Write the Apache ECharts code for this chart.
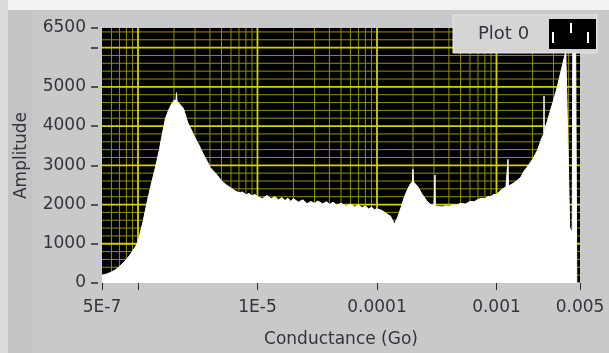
<!DOCTYPE html>
<html><head><meta charset="utf-8">
<script src="https://cdn.jsdelivr.net/npm/echarts@6/dist/echarts.min.js"></script>
<style>html,body{margin:0;padding:0;background:#c9c9c9}#c{width:609px;height:353px}</style>
</head><body><div id="c"></div>
<script>
// ---- data ----
const conductance = [
  5e-7, 5.5e-7, 6e-7, 6.5e-7, 7e-7, 7.5e-7, 8e-7, 8.5e-7, 9e-7, 9.5e-7,
  1e-6, 1.1e-6, 1.2e-6, 1.3e-6, 1.4e-6, 1.5e-6, 1.6e-6, 1.7e-6, 1.8e-6, 1.9e-6, 2e-6, 2.08e-6, 2.1e-6, 2.12e-6, 2.2e-6, 2.4e-6, 2.6e-6, 2.8e-6, 3e-6, 3.2e-6, 3.5e-6, 3.8e-6, 4e-6, 4.3e-6, 4.6e-6, 5e-6, 5.5e-6, 6e-6, 6.5e-6, 7e-6, 7.5e-6, 8e-6, 8.5e-6, 9e-6, 9.5e-6,
  1e-5, 1.1e-5, 1.2e-5, 1.3e-5, 1.4e-5, 1.5e-5, 1.6e-5, 1.7e-5, 1.8e-5, 1.9e-5, 2e-5, 2.2e-5, 2.4e-5, 2.6e-5, 2.8e-5, 3e-5, 3.2e-5, 3.5e-5, 3.8e-5, 4e-5, 4.3e-5, 4.6e-5, 5e-5, 5.5e-5, 6e-5, 6.5e-5, 7e-5, 7.5e-5, 8e-5, 8.5e-5, 9e-5, 9.5e-5,
  1e-4, 1.1e-4, 1.2e-4, 1.3e-4, 1.4e-4, 1.5e-4, 1.6e-4, 1.7e-4, 1.8e-4, 1.9e-4, 1.98e-4, 2e-4, 2.02e-4, 2.2e-4, 2.4e-4, 2.6e-4, 2.8e-4, 3e-4, 3.04e-4, 3.06e-4, 3.08e-4, 3.5e-4, 3.8e-4, 4e-4, 4.3e-4, 4.6e-4, 5e-4, 5.5e-4, 6e-4, 6.5e-4, 7e-4, 7.5e-4, 8e-4, 8.5e-4, 9e-4, 9.5e-4,
  1e-3, 1.1e-3, 1.2e-3, 1.24e-3, 1.25e-3, 1.26e-3, 1.3e-3, 1.4e-3, 1.5e-3, 1.6e-3, 1.7e-3, 1.8e-3, 1.9e-3, 2e-3, 2.2e-3, 2.4e-3, 2.49e-3, 2.5e-3, 2.51e-3, 2.8e-3, 3e-3, 3.2e-3, 3.5e-3, 3.7e-3, 3.8e-3, 3.9e-3, 4e-3, 4.1e-3, 4.3e-3, 4.35e-3, 4.6e-3, 4.7e-3, 5e-3
];
const amplitude = [
  200, 230, 280, 340, 420, 510, 600, 700, 810, 920,
  1050, 1550, 2100, 2550, 2950, 3350, 3800, 4200, 4400, 4550, 4650, 4660, 4850, 4640, 4620, 4450, 4100, 3900, 3700, 3550, 3300, 3100, 2950, 2850, 2750, 2600, 2500, 2420, 2350, 2300, 2320, 2250, 2280, 2220, 2260,
  2200, 2150, 2230, 2150, 2200, 2120, 2180, 2100, 2160, 2080, 2150, 2060, 2120, 2020, 2080, 2030, 2090, 2020, 2070, 2000, 2060, 1980, 2030, 1960, 2010, 1940, 1990, 1920, 1960, 1890, 1930, 1870,
  1890, 1850, 1770, 1700, 1500, 1700, 1950, 2200, 2380, 2520, 2580, 2900, 2580, 2450, 2250, 2100, 2000, 1980, 1970, 2750, 1960, 1940, 1970, 1950, 1990, 1980, 2030, 2010, 2080, 2070, 2130, 2160, 2150, 2210, 2200, 2260,
  2250, 2380, 2450, 2460, 3150, 2470, 2480, 2550, 2620, 2700, 2850, 2950, 3050, 3150, 3380, 3700, 3800, 4770, 3850, 4350, 4650, 4950, 5450, 5750, 5900, 5850, 3000, 1400, 1300, 5900, 5900, 0, 0
];
const seriesName = 'Plot 0';
const xTickValues = [5e-7, 1e-6, 1e-5, 1e-4, 1e-3, 5e-3];
const xTickLabels = ['5E-7', '', '1E-5', '0.0001', '0.001', '0.005'];
const yTickValues = [0, 1000, 2000, 3000, 4000, 5000, 6000, 6500];
const yTickLabels = ['0', '1000', '2000', '3000', '4000', '5000', '', '6500'];

// ---- grid lines (LabVIEW style), drawn as line series through the axes ----
const MAJOR = '#d2d200', MINOR = '#8e8e00';
const xMin = 5e-7, xMax = 5e-3, yMin = 0, yMax = 6500;
const vMajor = [], vMinor = [], hMajor = [], hMinor = [];
for (let d = -7; d <= -3; d++) {
  for (let m = 1; m <= 9; m++) {
    const v = m * Math.pow(10, d);
    if (v <= xMin * 1.001 || v >= xMax * 0.999) continue;
    const seg = [[v, yMin], [v, yMax], [v, '-']];
    (m === 1 ? vMajor : vMinor).push(...seg);
  }
}
for (let v = 200; v < yMax; v += 200) {
  const seg = [[xMin, v], [xMax, v], [xMin, '-']];
  (v % 1000 === 0 ? hMajor : hMinor).push(...seg);
}
function gridSeries(data, color, width, z) {
  return { type: 'line', data: data, z: z, silent: true, symbol: 'none', showSymbol: false,
    connectNulls: false, lineStyle: { color: color, width: width }, emphasis: { disabled: true }, tooltip: { show: false } };
}

const textColor = '#34343f';
const font = 'DejaVu Sans';
const chart = echarts.init(document.getElementById('c'), null, { renderer: 'canvas' });
chart.setOption({
  animation: false,
  backgroundColor: '#c9c9c9',
  grid: { left: 102, right: 29, top: 28, bottom: 69, show: true, backgroundColor: '#000', borderWidth: 0, containLabel: false },
  xAxis: {
    type: 'log', logBase: 10, min: xMin, max: xMax, offset: 5,
    axisLine: { show: false },
    axisTick: { show: true, length: 7, lineStyle: { color: '#2a2a2a', width: 1 } },
    axisLabel: {
      margin: 11, color: textColor, fontFamily: font, fontSize: 17,
      formatter: function (v) {
        for (let i = 0; i < xTickValues.length; i++) {
          if (Math.abs(Math.log10(v) - Math.log10(xTickValues[i])) < 0.01) return xTickLabels[i];
        }
        return '';
      }
    },
    splitLine: { show: false },
    name: 'Conductance (Go)', nameLocation: 'middle', nameGap: 43,
    nameTextStyle: { color: textColor, fontFamily: font, fontSize: 17 }
  },
  yAxis: {
    type: 'value', min: yMin, max: yMax, interval: 1000, offset: 4,
    axisLine: { show: false },
    axisTick: { show: true, length: 7, lineStyle: { color: '#2a2a2a', width: 1.5 } },
    axisLabel: {
      margin: 12, color: textColor, fontFamily: font, fontSize: 17,
      formatter: function (v) {
        const i = yTickValues.indexOf(v);
        return i >= 0 ? yTickLabels[i] : '';
      }
    },
    splitLine: { show: false },
    name: 'Amplitude', nameLocation: 'middle', nameGap: 68,
    nameTextStyle: { color: textColor, fontFamily: font, fontSize: 17 }
  },
  series: [
    gridSeries(vMinor, MINOR, 1, 1),
    gridSeries(hMinor, MINOR, 1, 1),
    gridSeries(vMajor, MAJOR, 1.8, 2),
    gridSeries(hMajor, MAJOR, 1.8, 2),
    {
      type: 'line', name: seriesName, z: 10,
      data: conductance.map((c, i) => [c, amplitude[i]]),
      showSymbol: false, symbol: 'none',
      lineStyle: { color: '#ffffff', width: 1 },
      areaStyle: { color: '#ffffff', opacity: 1 },
      itemStyle: { color: '#ffffff' }
    }
  ],
  graphic: [
    { type: 'rect', z: -10, shape: { x: 0, y: 0, width: 609, height: 10 }, style: { fill: '#f3f3f3' } },
    { type: 'rect', z: -10, shape: { x: 0, y: 0, width: 8, height: 353 }, style: { fill: '#dcdcdc' } },
    { type: 'rect', z: -10, shape: { x: 8, y: 10, width: 24, height: 343 }, style: { fill: '#c4c4c4' } },
    { type: 'rect', z: 100, shape: { x: 453, y: 15, width: 144, height: 38 }, style: { fill: '#d5d5d5', stroke: '#e6e6e6', lineWidth: 1 } },
    { type: 'text', z: 101, x: 478, y: 34, style: { text: seriesName, fill: textColor, font: '18px "DejaVu Sans"', verticalAlign: 'middle' } },
    { type: 'rect', z: 101, shape: { x: 549, y: 19, width: 47, height: 30 }, style: { fill: '#000' } },
    { type: 'rect', z: 102, shape: { x: 552, y: 32, width: 2, height: 11 }, style: { fill: '#fff' } },
    { type: 'rect', z: 102, shape: { x: 570, y: 23, width: 2, height: 10 }, style: { fill: '#fff' } },
    { type: 'rect', z: 102, shape: { x: 587, y: 32, width: 2, height: 11 }, style: { fill: '#fff' } }
  ]
});
</script>
</body></html>
